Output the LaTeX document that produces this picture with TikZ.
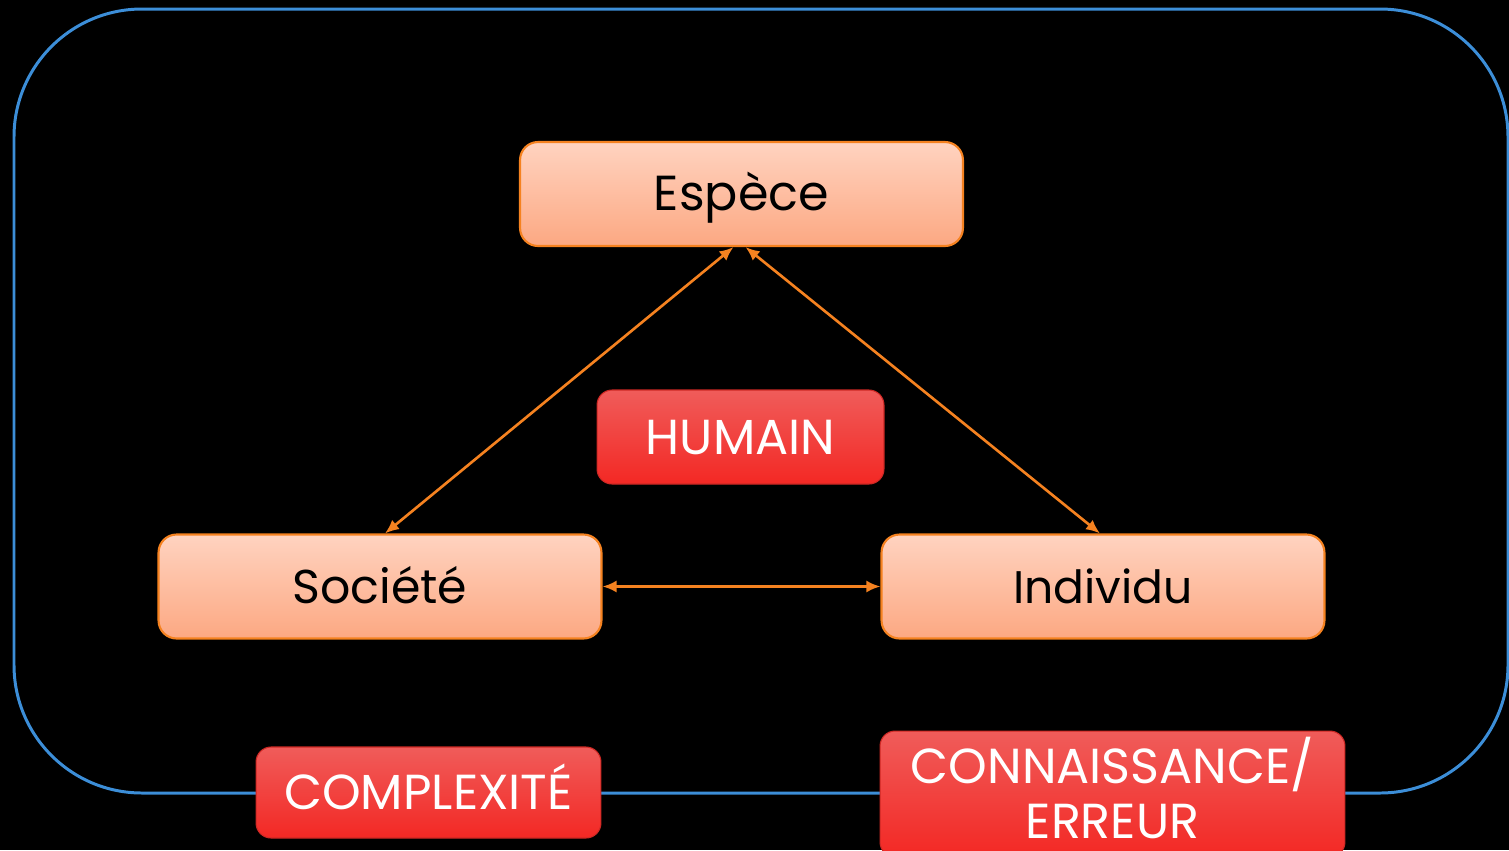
\documentclass[tikz,border=0pt]{standalone}
\usepackage{fontspec}
\setmainfont{Poppins}
\usetikzlibrary{arrows.meta}
\definecolor{frameblue}{RGB}{60,142,216}
\definecolor{boxline}{RGB}{245,130,32}
\definecolor{peachtop}{RGB}{255,211,192}
\definecolor{peachbot}{RGB}{252,168,130}
\definecolor{redtop}{RGB}{240,92,90}
\definecolor{redbot}{RGB}{243,40,36}
\definecolor{redline}{RGB}{205,40,36}
\tikzset{
	concept/.style={draw=boxline, line width=1.2pt, rounded corners=0.36cm,
		top color=peachtop, bottom color=peachbot, text=black,
		minimum width=8.86cm, minimum height=2.08cm,
		text height=19pt, text depth=0pt,
		font=\fontsize{27}{31}\selectfont},
	theme/.style={draw=redline, line width=0.6pt, rounded corners=0.3cm,
		top color=redtop, bottom color=redbot, text=white, align=center,
		text height=19.5pt, text depth=0pt,
		font=\fontsize{28}{31}\selectfont},
	link/.style={draw=boxline, line width=1.5pt,
		{Latex[length=0.28cm,width=0.24cm]}-{Latex[length=0.28cm,width=0.24cm]}}
}
\begin{document}
\begin{tikzpicture}
		[x=0.02cm, y=-0.02cm]
		\fill[black] (0,0) rectangle (1509,850);
		\useasboundingbox (0,0) rectangle (1509,850);
		\draw[frameblue, line width=1.7pt, rounded corners=2.56cm] (14,9) rectangle (1508,793);
		% the three poles
		\node[concept, font=\fontsize{28}{31}\selectfont] (espece) at (741.5,194) {Espèce};
		\node[concept] (societe) at (380,586.5) {Société};
		\node[concept, font=\fontsize{26}{30}\selectfont] (individu) at (1103,586.5) {Individu};
		% the themes
		\node[theme, minimum width=5.74cm, minimum height=1.88cm] (humain) at (740.5,437) {HUMAIN};
		\node[theme, minimum width=6.9cm, minimum height=1.82cm] (complexite) at (428.5,792.5) {COMPLEXITÉ};
		\node[theme, minimum width=9.3cm, minimum height=2.52cm, text height=50.5pt] (connaissance) at (1112.5,794) {CONNAISSANCE/\\ERREUR};
		% links
		\draw[link] ([xshift=-0.16cm]espece.south) -- ([xshift=0.1cm]societe.north);
		\draw[link] ([xshift=0.08cm]espece.south) -- ([xshift=-0.06cm]individu.north);
		\draw[link] (societe.east) -- (individu.west);
	\end{tikzpicture}
\end{document}
